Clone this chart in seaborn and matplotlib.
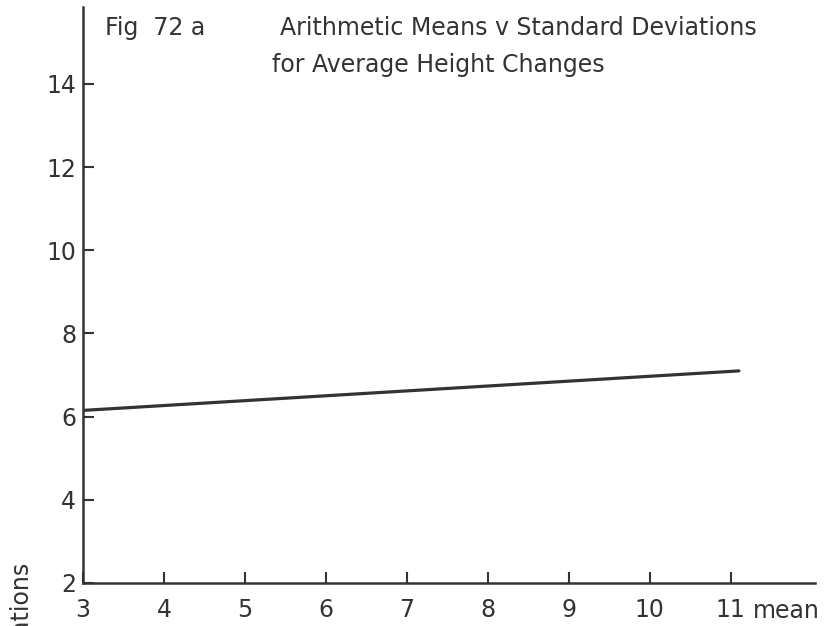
import matplotlib
matplotlib.use("Agg")
import matplotlib.pyplot as plt
import seaborn as sns
import pandas as pd

# Regression line of standard deviation against arithmetic mean
mean_values = [3.0, 11.1]
sd_values = [6.15, 7.1]
x_ticks = [3, 4, 5, 6, 7, 8, 9, 10, 11]
y_ticks = [2, 4, 6, 8, 10, 12, 14]

fig_label = "Fig  72 a"
title_lines = ["Arithmetic Means v Standard Deviations",
               "for Average Height Changes"]
x_label = "mean"
y_label = "Standard Deviations"

sns.set_style("white")
plt.rcParams["font.family"] = ["DejaVu Sans"]

ink = "#333333"
W, H = 828, 626
fig = plt.figure(figsize=(W / 100, H / 100), dpi=100)
ax = fig.add_axes([83 / W, 1 - 583 / H, (815 - 83) / W, (583 - 7) / H])

df = pd.DataFrame({"mean": mean_values, "sd": sd_values})
sns.lineplot(data=df, x="mean", y="sd", ax=ax, color=ink, linewidth=2.3)

ax.set_xlim(3, 12.04)
ax.set_ylim(2, 15.85)
ax.set_xticks(x_ticks)
ax.set_yticks(y_ticks)
ax.set_xlabel("")
ax.set_ylabel("")

sns.despine(ax=ax)
for side in ("left", "bottom"):
    ax.spines[side].set_color(ink)
    ax.spines[side].set_linewidth(1.8)

ax.tick_params(axis="x", direction="in", length=8, width=1.5, color=ink,
               labelsize=17, labelcolor=ink, pad=11, bottom=True)
ax.tick_params(axis="y", direction="in", length=8, width=1.5, color=ink,
               labelsize=17, labelcolor=ink, pad=5, left=True)

def fx(px):
    return px / W

def fy(py):
    return 1 - py / H

fs = 17
fig.text(fx(105), fy(35), fig_label, fontsize=fs, color=ink, va="baseline", ha="left")
fig.text(fx(280), fy(35), title_lines[0], fontsize=fs, color=ink, va="baseline", ha="left")
fig.text(fx(272), fy(72), title_lines[1], fontsize=fs, color=ink, va="baseline", ha="left")
fig.text(fx(820), fy(618), x_label, fontsize=fs, color=ink, va="baseline", ha="right")
fig.text(fx(22), fy(563), y_label, fontsize=fs, color=ink, rotation=90,
         va="top", ha="center")

fig.savefig("out.png", dpi=100, facecolor="white")
